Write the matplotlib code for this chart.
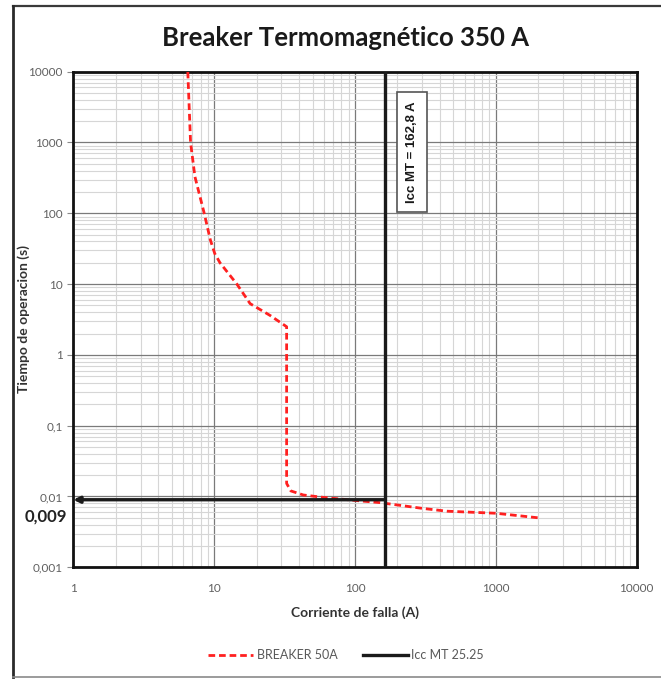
import matplotlib
matplotlib.use("Agg")
import matplotlib.pyplot as plt
from matplotlib.lines import Line2D
from matplotlib.ticker import FixedLocator, LogLocator, NullFormatter

# breaker 50A time-current curve
breaker_i = [6.5, 6.8, 7.3, 8.5, 9.4, 10.1, 11, 14.5, 18, 25, 32.7,
             32.7, 35, 43, 60, 100, 150, 300, 450, 1000, 2000]
breaker_t = [10000, 1000, 330, 100, 42, 27, 20, 10, 5.3, 3.6, 2.5,
             0.0153, 0.012, 0.0105, 0.0097, 0.0088, 0.0082, 0.0068, 0.0062, 0.0058, 0.005]

# short-circuit current at MT and the resulting trip time
icc_mt = 162.8
icc_span = [0.001, 10000]
trip_time = 0.009

x_ticks = [1, 10, 100, 1000, 10000]
x_labels = ["1", "10", "100", "1000", "10000"]
y_ticks = [0.001, 0.01, 0.1, 1, 10, 100, 1000, 10000]
y_labels = ["0,001", "0,01", "0,1", "1", "10", "100", "1000", "10000"]

plt.rcParams["font.family"] = ["Lato", "DejaVu Sans"]

W, H = 661, 679
fig = plt.figure(figsize=(W / 100, H / 100), dpi=100)
ax = fig.add_axes([73.3 / W, 1 - 567.3 / H, (636.7 - 73.3) / W, (567.3 - 71.7) / H])

# outer chart frame
frame_kw = dict(transform=fig.transFigure, clip_on=False)
fig.add_artist(Line2D([13 / W, 1.0], [1 - 6 / H, 1 - 6 / H], color="#3a3a3a", lw=1.6, **frame_kw))
fig.add_artist(Line2D([13 / W, 13 / W], [1 - 6 / H, 1 - 677 / H], color="#2a2a2a", lw=2.0, **frame_kw))
fig.add_artist(Line2D([13 / W, 1.0], [1 - 677 / H, 1 - 677 / H], color="#8a8a8a", lw=1.2, **frame_kw))

ax.set_xscale("log")
ax.set_yscale("log")
ax.set_xlim(1, 10000)
ax.set_ylim(0.001, 10000)

ax.plot(breaker_i, breaker_t, color="#ff2020", lw=2.0, ls=(0, (2.4, 1.4)),
        label="BREAKER 50A", zorder=4)
ax.plot([icc_mt, icc_mt], icc_span, color="#1a1a1a", lw=2.4,
        label="Icc MT 25.25", zorder=5)
ax.annotate("", xy=(1, trip_time), xytext=(icc_mt, trip_time),
            arrowprops=dict(arrowstyle="-|>", color="#1a1a1a", lw=2.4,
                            mutation_scale=9, shrinkA=0, shrinkB=0),
            zorder=5)

ax.text(253, 740, "Icc MT = 162,8 A", rotation=90, ha="center", va="center",
        fontsize=9.5, fontweight="bold", family=["Liberation Sans"], color="#1a1a1a",
        bbox=dict(boxstyle="square,pad=0.7", fc="white", ec="#555555", lw=1.2),
        zorder=6)

ax.text(-0.011, 0.1015, "0,009", transform=ax.transAxes,
        ha="right", va="center", fontsize=12, fontweight="bold", color="#222222")

ax.xaxis.set_major_locator(FixedLocator(x_ticks))
ax.set_xticklabels(x_labels)
ax.yaxis.set_major_locator(FixedLocator(y_ticks))
ax.set_yticklabels(y_labels)
ax.xaxis.set_minor_locator(LogLocator(base=10, subs=range(2, 10), numticks=20))
ax.yaxis.set_minor_locator(LogLocator(base=10, subs=range(2, 10), numticks=20))
ax.xaxis.set_minor_formatter(NullFormatter())
ax.yaxis.set_minor_formatter(NullFormatter())

ax.tick_params(axis="both", which="major", labelsize=8.5, labelcolor="#606060",
               color="#888888", length=4, width=0.8)
ax.tick_params(axis="x", which="major", length=0, pad=11)
ax.tick_params(axis="both", which="minor", length=0)

ax.grid(True, which="major", color="#7a7a7a", lw=0.9)
ax.grid(True, which="minor", color="#d6d6d6", lw=0.8)
ax.set_axisbelow(True)

for side in ax.spines.values():
    side.set_color("#111111")
    side.set_linewidth(2.0)

ax.set_xlabel("Corriente de falla (A)", fontsize=10, fontweight="bold",
              color="#333333", labelpad=9)
ax.set_ylabel("Tiempo de operacion (s)", fontsize=10, fontweight="bold",
              color="#333333")
ax.yaxis.set_label_coords(-0.077, 0.5)

fig.text(345 / W, 1 - 38 / H, "Breaker Termomagnético 350 A", ha="center", va="center",
         fontsize=18.5, fontweight="bold", color="#1a1a1a")

fig.legend(loc="center", bbox_to_anchor=(346 / W, 1 - 655 / H), ncol=2, frameon=False,
           fontsize=9, labelcolor="#595959", handlelength=3.6, handletextpad=0.3,
           columnspacing=2.0)

fig.savefig("out.png", dpi=100)
